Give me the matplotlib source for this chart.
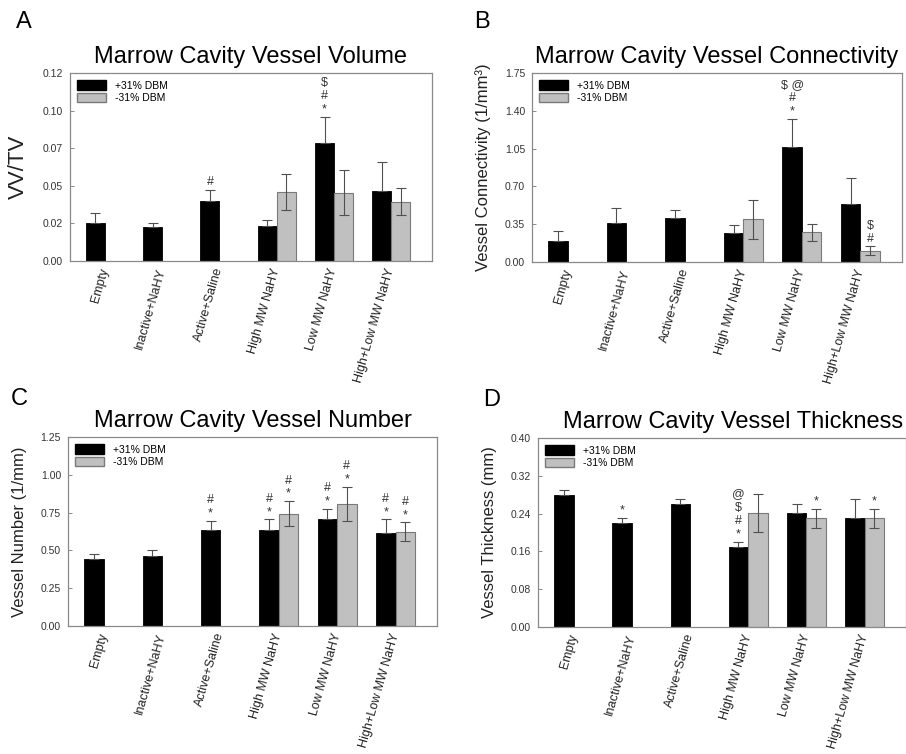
import matplotlib
matplotlib.use('Agg')
import matplotlib.pyplot as plt
from matplotlib.patches import Patch
import numpy as np

plt.rcParams['font.family'] = ['Liberation Sans', 'DejaVu Sans']

groups = ['Empty', 'Inactive+NaHY', 'Active+Saline', 'High MW NaHY',
          'Low MW NaHY', 'High+Low MW NaHY']
nan = np.nan

# A: vessel volume
vol_pos = [0.025, 0.0224, 0.040, 0.0231, 0.0784, 0.0468]
vol_pos_err = [0.0067, 0.0031, 0.0073, 0.0042, 0.0175, 0.0192]
vol_neg = [nan, nan, nan, 0.0457, 0.0455, 0.0393]
vol_neg_err = [nan, nan, nan, 0.012, 0.015, 0.009]
vol_pos_marks = ['', '', '#', '', '$\n#\n*', '']
vol_neg_marks = ['', '', '', '', '', '']
vol_ticks = [0, 0.025, 0.05, 0.075, 0.10, 0.125]
vol_ticklabels = ['0.00', '0.02', '0.05', '0.07', '0.10', '0.12']

# B: connectivity
conn_pos = [0.194, 0.363, 0.403, 0.265, 1.065, 0.54]
conn_pos_err = [0.089, 0.137, 0.080, 0.075, 0.258, 0.24]
conn_neg = [nan, nan, nan, 0.394, 0.274, 0.105]
conn_neg_err = [nan, nan, nan, 0.18, 0.082, 0.04]
conn_pos_marks = ['', '', '', '', '$ @\n#\n*', '']
conn_neg_marks = ['', '', '', '', '', '$\n#']
conn_ticks = [0, 0.35, 0.70, 1.05, 1.40, 1.75]
conn_ticklabels = ['0.00', '0.35', '0.70', '1.05', '1.40', '1.75']

# C: vessel number
num_pos = [0.442, 0.462, 0.632, 0.632, 0.705, 0.614]
num_pos_err = [0.031, 0.039, 0.061, 0.073, 0.070, 0.091]
num_neg = [nan, nan, nan, 0.744, 0.806, 0.623]
num_neg_err = [nan, nan, nan, 0.081, 0.112, 0.062]
num_pos_marks = ['', '', '#\n*', '#\n*', '#\n*', '#\n*']
num_neg_marks = ['', '', '', '#\n*', '#\n*', '#\n*']
num_ticks = [0, 0.25, 0.50, 0.75, 1.00, 1.25]
num_ticklabels = ['0.00', '0.25', '0.50', '0.75', '1.00', '1.25']

# D: vessel thickness
thick_pos = [0.280, 0.220, 0.261, 0.170, 0.241, 0.230]
thick_pos_err = [0.010, 0.010, 0.009, 0.010, 0.020, 0.040]
thick_neg = [nan, nan, nan, 0.241, 0.230, 0.230]
thick_neg_err = [nan, nan, nan, 0.040, 0.020, 0.020]
thick_pos_marks = ['', '*', '', '@\n$\n#\n*', '', '']
thick_neg_marks = ['', '', '', '', '*', '*']
thick_ticks = [0, 0.08, 0.16, 0.24, 0.32, 0.40]
thick_ticklabels = ['0.00', '0.08', '0.16', '0.24', '0.32', '0.40']

W, H = 906, 754
fig = plt.figure(figsize=(W / 100, H / 100), dpi=100)
fig.patch.set_facecolor('white')

GRAY = '#c0c0c0'
ERRC = '#505050'
SPINE = '#8a8a8a'


def panel(box, title, ylabel, ylfs, pos, pos_err, neg, neg_err, pmarks, nmarks,
          ticks, ticklabels, letter, letter_xy, title_x=0.5):
    l, r, t, b = box
    ax = fig.add_axes([l / W, 1 - b / H, (r - l) / W, (b - t) / H])
    x = np.arange(len(groups))
    w = 1 / 3
    pos = np.array(pos)
    neg = np.array(neg)
    ax.bar(x - w / 2, pos, w, color='black', edgecolor='black', linewidth=0.6, zorder=2)
    ax.bar(x + w / 2, neg, w, color=GRAY, edgecolor='#7a7a7a', linewidth=0.8, zorder=2)
    ax.errorbar(x - w / 2, pos, yerr=[np.zeros_like(pos), pos_err], fmt='none',
                ecolor=ERRC, elinewidth=0.8, capsize=3.8, capthick=0.8, zorder=3)
    ok = ~np.isnan(neg)
    ax.errorbar((x + w / 2)[ok], neg[ok], yerr=np.array(neg_err)[ok], fmt='none',
                ecolor=ERRC, elinewidth=0.8, capsize=3.8, capthick=0.8, zorder=3)
    for i in range(len(groups)):
        if pmarks[i]:
            ax.annotate(pmarks[i], (x[i] - w / 2, pos[i] + pos_err[i]), xytext=(0, 1),
                        textcoords='offset points', ha='center', va='bottom',
                        fontsize=9, color='#333333', linespacing=1.15)
        if nmarks[i]:
            ax.annotate(nmarks[i], (x[i] + w / 2, neg[i] + neg_err[i]), xytext=(0, 1),
                        textcoords='offset points', ha='center', va='bottom',
                        fontsize=9, color='#333333', linespacing=1.15)
    ax.set_xlim(-0.61, 5.71)
    ax.set_ylim(ticks[0], ticks[-1])
    ax.set_yticks(ticks)
    ax.set_yticklabels(ticklabels)
    ax.set_xticks(x)
    ax.set_xticklabels(groups, rotation=74, ha='right', va='center',
                       rotation_mode='anchor', fontsize=9, color='#222222')
    ax.tick_params(axis='x', length=0, pad=5)
    ax.tick_params(axis='y', direction='in', length=3, width=0.7, color=SPINE,
                   labelsize=7.5, labelcolor='#333333', pad=5)
    for s in ax.spines.values():
        s.set_color(SPINE)
        s.set_linewidth(0.9)
    ax.set_title(title, fontsize=17, pad=7, x=title_x)
    ax.set_ylabel(ylabel, fontsize=ylfs, color='#222222')
    ax.yaxis.set_label_coords(-41 / (r - l), 0.5)
    handles = [Patch(facecolor='black', edgecolor='black'),
               Patch(facecolor=GRAY, edgecolor='#7a7a7a')]
    ax.legend(handles, ['+31% DBM', '-31% DBM'], loc='upper left', frameon=False,
              fontsize=7.5, handlelength=2.8, handleheight=1.05, handletextpad=0.8,
              labelspacing=0.2, borderaxespad=0.3)
    fig.text(letter_xy[0] / W, 1 - letter_xy[1] / H, letter, fontsize=17,
             ha='center', va='center')
    return ax


panel((70, 432, 73, 261), 'Marrow Cavity Vessel Volume', 'VV/TV', 16,
      vol_pos, vol_pos_err, vol_neg, vol_neg_err, vol_pos_marks, vol_neg_marks,
      vol_ticks, vol_ticklabels, 'A', (24, 22))
panel((532, 902, 73, 262), 'Marrow Cavity Vessel Connectivity',
      'Vessel Connectivity (1/mm³)', 12,
      conn_pos, conn_pos_err, conn_neg, conn_neg_err, conn_pos_marks, conn_neg_marks,
      conn_ticks, conn_ticklabels, 'B', (482, 22))
panel((68, 437, 437, 626), 'Marrow Cavity Vessel Number', 'Vessel Number (1/mm)', 12,
      num_pos, num_pos_err, num_neg, num_neg_err, num_pos_marks, num_neg_marks,
      num_ticks, num_ticklabels, 'C', (19, 399))
panel((538, 906, 438, 627), 'Marrow Cavity Vessel Thickness', 'Vessel Thickness (mm)', 12,
      thick_pos, thick_pos_err, thick_neg, thick_neg_err, thick_pos_marks, thick_neg_marks,
      thick_ticks, thick_ticklabels, 'D', (492, 400), title_x=0.53)

fig.savefig('out.png', dpi=100, facecolor='white')
